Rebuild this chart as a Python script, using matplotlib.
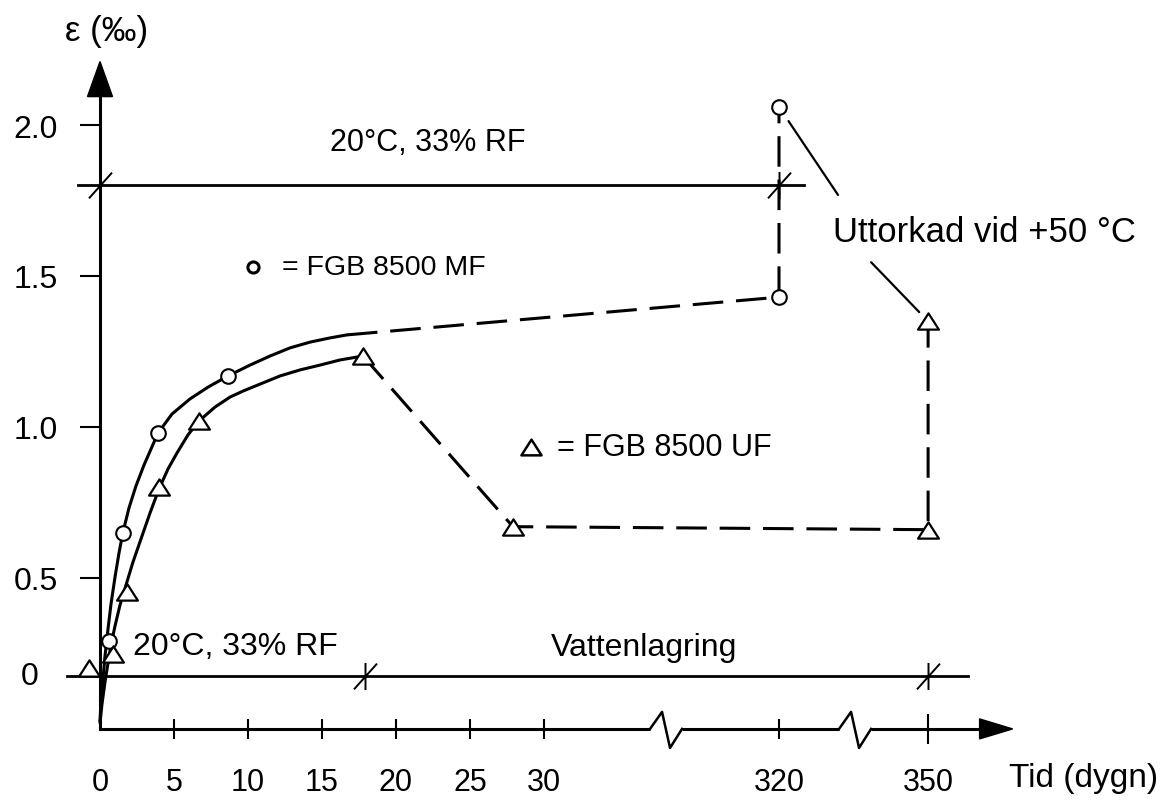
import numpy as np
import matplotlib
matplotlib.use('Agg')
import matplotlib.pyplot as plt
import matplotlib.transforms as mtransforms
from matplotlib.path import Path
from matplotlib.patches import Polygon

plt.rcParams['font.family'] = ['Liberation Sans', 'DejaVu Sans']

# FGB 8500 MF (circles)
MF_DAYS = [0.6, 1.55, 3.9, 8.65, 320, 320]
MF_EPS = [0.18, 0.65, 0.98, 1.17, 1.43, 2.06]
MF_CURVE_DAYS = [0.0, 0.068, 0.203, 0.338, 0.541, 0.743, 1.014, 1.284, 1.554,
                 1.959, 2.432, 2.973, 3.919, 4.865, 6.081, 7.297, 8.649, 10.135,
                 11.486, 12.838, 14.189, 15.541, 16.689]
MF_CURVE_EPS = [-0.230, -0.128, -0.015, 0.102, 0.240, 0.367, 0.503, 0.583, 0.652,
                0.732, 0.805, 0.874, 0.980, 1.043, 1.093, 1.132, 1.169, 1.205,
                1.235, 1.262, 1.281, 1.295, 1.305]
MF_DASH_DAYS = [16.689, 320, 320]
MF_DASH_EPS = [1.305, 1.43, 2.06]

# FGB 8500 UF (triangles)
UF_DAYS = [-0.75, 0.9, 1.8, 4.0, 6.7, 17.8, 27.9, 350, 350]
UF_EPS = [0.04, 0.11, 0.43, 0.80, 1.02, 1.235, 0.67, 0.66, 1.35]
UF_CURVE_DAYS = [0.0, 0.135, 0.338, 0.541, 0.743, 1.014, 1.351, 1.757, 2.230,
                 2.838, 3.378, 3.986, 4.595, 5.203, 5.946, 6.689, 7.770, 8.784,
                 9.662, 10.811, 12.162, 13.514, 14.865, 16.216, 17.77]
UF_CURVE_EPS = [-0.240, -0.143, -0.031, 0.066, 0.158, 0.255, 0.362, 0.464, 0.553,
                0.639, 0.715, 0.795, 0.861, 0.914, 0.974, 1.020, 1.066, 1.099,
                1.119, 1.142, 1.169, 1.189, 1.205, 1.222, 1.235]
UF_DASH_DAYS = [17.77, 27.9, 350, 350]
UF_DASH_EPS = [1.235, 0.67, 0.66, 1.35]

# storage phases (20C/33% RF line and water storage line)
AIR_DAYS = [-1.5, 325]
AIR_EPS = [1.8, 1.8]
WATER_DAYS = [-2.2, 358]
WATER_EPS = [0, 0]
CHANGE_DAYS = [0, 320, 17.9, 350]
CHANGE_EPS = [1.8, 1.8, 0, 0]

X_TICKS = [0, 5, 10, 15, 20, 25, 30, 320, 350]
X_LABELS = ['0', '5', '10', '15', '20', '25', '30', '320', '350']
Y_TICKS = [0.5, 1.0, 1.5, 2.0]
Y_LABELS = ['0.5', '1.0', '1.5', '2.0']

BREAKS = [180.6, 335.3]

# broken axes: piecewise linear scales (units = pixels)
X_KNOTS = [-50, 30, 320, 500]
X_PIX = [-740, 444, 679, 1573.6]
Y_KNOTS = [-3, 0, 0.5, 4]
Y_PIX = [-588, 0, 98, 1155]

W, H = 1170, 803
fig = plt.figure(figsize=(W / 100, H / 100), dpi=100)
ax = fig.add_axes([0, 0, 1, 1])


def xf(v):
    return np.interp(v, X_KNOTS, X_PIX)


def xi(p):
    return np.interp(p, X_PIX, X_KNOTS)


def yf(v):
    return np.interp(v, Y_KNOTS, Y_PIX)


def yi(p):
    return np.interp(p, Y_PIX, Y_KNOTS)


ax.set_xscale('function', functions=(xf, xi))
ax.set_yscale('function', functions=(yf, yi))
ax.set_xlim(xi(-100), xi(1070))
ax.set_ylim(yi(-126), yi(677))
ax.minorticks_off()

X_AXIS_EPS = -0.27
Y_TIP, Y_BASE = 2.21, 2.09
X_TIP, X_BASE = 367, 360.4

for s in ['top', 'right']:
    ax.spines[s].set_visible(False)
ax.spines['left'].set_position(('data', 0))
ax.spines['left'].set_bounds(X_AXIS_EPS, Y_BASE)
ax.spines['bottom'].set_position(('data', X_AXIS_EPS))
ax.spines['bottom'].set_bounds(0, X_BASE)
for s in ['left', 'bottom']:
    ax.spines[s].set_linewidth(2.2)

ax.tick_params(axis='y', direction='out', length=14.4, width=1.5, pad=16, labelsize=23)
ax.tick_params(axis='x', direction='inout', length=14.4, width=1.5, pad=20, labelsize=22)
ax.set_xticks(X_TICKS, X_LABELS)
ax.set_yticks(Y_TICKS, Y_LABELS)
xt = ax.xaxis.get_major_ticks()
xt[0].tick1line.set_visible(False)
xt[-1].tick1line.set_markersize(21.6)

# phase lines
ax.plot(AIR_DAYS, AIR_EPS, color='k', lw=2.0, zorder=2)
ax.plot(WATER_DAYS, WATER_EPS, color='k', lw=2.0, zorder=2)
cross = Path([(0, -1), (0, 1), (-0.85, -0.95), (0.85, 0.95)],
             [Path.MOVETO, Path.LINETO, Path.MOVETO, Path.LINETO])
ax.plot(CHANGE_DAYS, CHANGE_EPS, ls='none', marker=cross, ms=19.5,
        mec='k', mfc='none', mew=1.4, zorder=3)

# curves
dash = (0, (10, 4.2))
ax.plot(MF_CURVE_DAYS, MF_CURVE_EPS, color='k', lw=2.2, zorder=3,
        solid_joinstyle='round', solid_capstyle='round')
ax.plot(MF_DASH_DAYS, MF_DASH_EPS, color='k', lw=2.2, ls=dash, zorder=3)
ax.plot(UF_CURVE_DAYS, UF_CURVE_EPS, color='k', lw=2.2, zorder=3,
        solid_joinstyle='round', solid_capstyle='round')
ax.plot(UF_DASH_DAYS, UF_DASH_EPS, color='k', lw=2.2, ls=dash, zorder=3)

tri = Path([(-1, -0.78), (1, -0.78), (0, 0.78), (-1, -0.78)],
           [Path.MOVETO, Path.LINETO, Path.LINETO, Path.CLOSEPOLY])
ax.plot(MF_DAYS, MF_EPS, ls='none', marker='o', ms=10.5, mfc='white',
        mec='k', mew=1.5, zorder=4)
ax.plot(UF_DAYS, UF_EPS, ls='none', marker=tri, ms=15, mfc='white',
        mec='k', mew=1.6, zorder=4)


def at(x, y):
    X, Y = ax.transData.transform((x, y))
    return mtransforms.Affine2D().translate(X, Y)


# arrow heads
ax.add_patch(Polygon([(0, 0), (-12.5, -35), (12.5, -35)], closed=True,
                     color='k', transform=at(0, Y_TIP), zorder=4))
ax.add_patch(Polygon([(0, 0), (-33, 10), (-33, -10)], closed=True,
                     color='k', transform=at(X_TIP, X_AXIS_EPS), zorder=4))

# axis breaks
for b in BREAKS:
    tr = at(b, X_AXIS_EPS)
    ax.plot([-16, 16], [0, 0], color='white', lw=5, transform=tr, zorder=3,
            solid_capstyle='butt')
    ax.plot([-16, -4, 4, 16], [0, 17, -19, 0], color='k', lw=1.8,
            transform=tr, zorder=4)

# legend symbols
ax.plot([xi(153)], [yi(409)], ls='none', marker='o', ms=8, mfc='white',
        mec='k', mew=2.2)
ax.plot([xi(431)], [yi(229)], ls='none', marker=tri, ms=14.5, mfc='white',
        mec='k', mew=1.8)

# leader lines
ax.annotate('', xy=(320, 2.06), xytext=(42.5, -63.4), textcoords='offset points',
            arrowprops=dict(arrowstyle='-', lw=1.6, color='k', shrinkA=0, shrinkB=12.3))
ax.annotate('', xy=(350, 1.35), xytext=(-41, 42.5), textcoords='offset points',
            arrowprops=dict(arrowstyle='-', lw=1.6, color='k', shrinkA=0, shrinkB=9.2))


def ft(x, y, s, size, ha='left'):
    fig.text(x / W, 1 - y / H, s, ha=ha, va='center', fontsize=size)


ft(107, 32, 'ε (‰)', 25, ha='center')
ft(30, 677, '0', 23, ha='center')
ft(1084, 779, 'Tid (dygn)', 24, ha='center')
ft(428, 143, '20°C, 33% RF', 22, ha='center')
ft(282, 268, '= FGB 8500 MF', 20.5)
ft(557, 448, '= FGB 8500 UF', 22)
ft(133, 647, '20°C, 33% RF', 23)
ft(644, 648, 'Vattenlagring', 23, ha='center')
ft(833, 232, 'Uttorkad vid +50 °C', 25)

fig.savefig('out.png', dpi=100)
